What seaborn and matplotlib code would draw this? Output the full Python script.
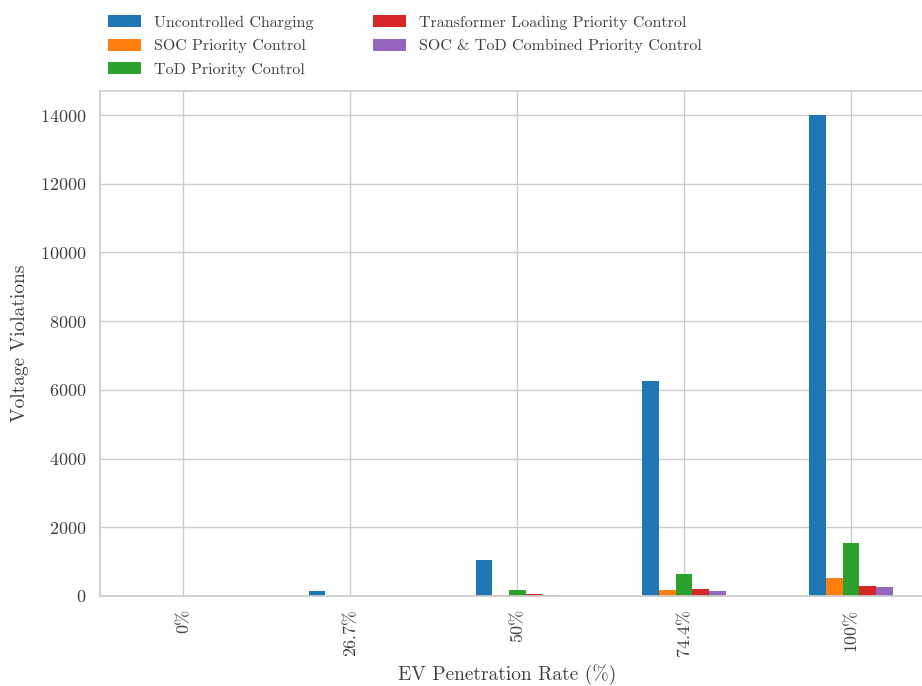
import matplotlib
matplotlib.use("Agg")
import matplotlib.pyplot as plt
import seaborn as sns
import pandas as pd

# EV penetration levels (x categories)
penetration = ["0%", "26.7%", "50%", "74.4%", "100%"]

# Voltage violations per control strategy
uncontrolled = [0, 150, 1050, 6270, 14000]
soc_priority = [0, 0, 20, 175, 525]
tod_priority = [0, 0, 175, 640, 1550]
transformer_priority = [0, 0, 60, 205, 290]
soc_tod_combined = [0, 0, 30, 150, 260]

strategies = [
    "Uncontrolled Charging",
    "SOC Priority Control",
    "ToD Priority Control",
    "Transformer Loading Priority Control",
    "SOC & ToD Combined Priority Control",
]
series = [uncontrolled, soc_priority, tod_priority, transformer_priority, soc_tod_combined]

rows = []
for name, vals in zip(strategies, series):
    for cat, v in zip(penetration, vals):
        rows.append({"EV Penetration Rate": cat, "Strategy": name, "Violations": v})
df = pd.DataFrame(rows)

sns.set_theme(style="whitegrid")
plt.rcParams["font.family"] = ["cmr10", "DejaVu Serif"]
plt.rcParams["mathtext.fontset"] = "cm"
plt.rcParams["axes.formatter.use_mathtext"] = True

fig = plt.figure(figsize=(9.22, 6.86), dpi=100)
W, H = 922, 686
left, right, top, bottom = 100, 934.5, 91, 596
ax = fig.add_axes([left / W, 1 - bottom / H, (right - left) / W, (bottom - top) / H])

palette = sns.color_palette("tab10", 5)
sns.barplot(
    data=df, x="EV Penetration Rate", y="Violations", hue="Strategy",
    order=penetration, hue_order=strategies, palette=palette,
    width=0.5, gap=0, errorbar=None, ax=ax, saturation=1, linewidth=0,
)

ax.set_xlim(-0.5, 4.5)
ax.set_ylim(0, 14700)
ax.set_xlabel("EV Penetration Rate (%)", fontsize=14, color="0.25", labelpad=5.5)
ax.set_ylabel("Voltage Violations", fontsize=14, color="0.25", labelpad=8)
ax.xaxis.label.set_x(0.488)
ax.tick_params(axis="x", labelrotation=90, labelsize=13, labelcolor="0.25")
ax.tick_params(axis="y", labelsize=13, labelcolor="0.25")
ax.grid(True, axis="both", color="0.8")
for s in ["left", "bottom", "top"]:
    ax.spines[s].set_color("0.8")

handles, labels = ax.get_legend_handles_labels()
leg = ax.legend(
    handles, labels, loc="lower left", bbox_to_anchor=(-0.008, 1.0),
    ncol=2, frameon=False, fontsize=11.5, handlelength=2.1,
    handleheight=0.8, columnspacing=3.7, labelspacing=0.55,
)
for t in leg.get_texts():
    t.set_color("0.25")

fig.savefig("out.png", dpi=100)
